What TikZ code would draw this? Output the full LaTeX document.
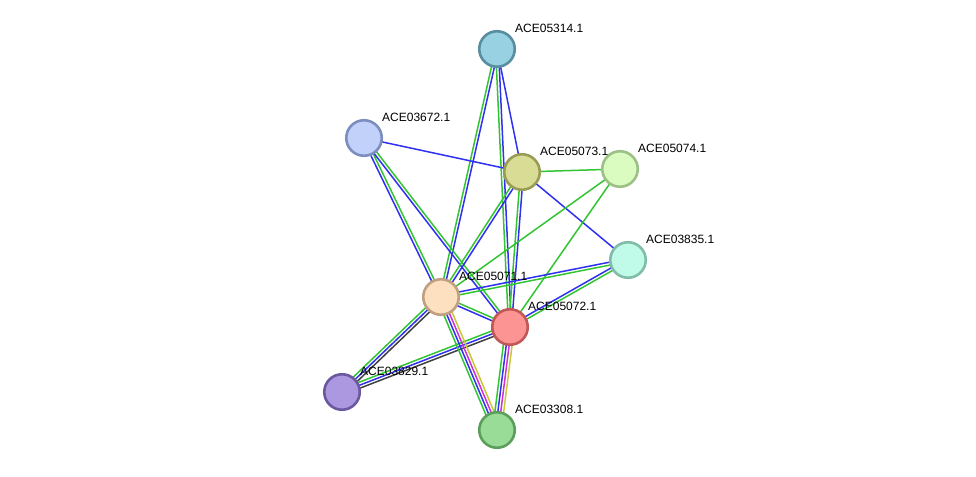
\documentclass[tikz,border=0pt]{standalone}
\usepackage{fontspec}
\setmainfont{Liberation Sans}
\usetikzlibrary{calc}
\pgfdeclarelayer{bg}
\pgfsetlayers{bg,main}
\definecolor{eg}{HTML}{33C433}
\definecolor{eb}{HTML}{3030F0}
\definecolor{ek}{HTML}{404040}
\definecolor{em}{HTML}{D030D0}
\definecolor{ey}{HTML}{C8C83A}
\tikzset{
  prot/.style={circle, minimum size=35.5pt, line width=2.6pt, inner sep=0pt},
  lbl/.style={anchor=west, inner sep=0pt, font=\fontsize{12}{13}\selectfont},
  edgeline/.style={line width=1.5pt}
}
\newcommand\edgeset[4]{%
  \foreach \cc [count=\ii] in {#4} {%
    \pgfmathsetmacro\off{((#3-1)/2-(\ii-1))*2.9}%
    \draw[edgeline, \cc] ($(#1.center)!\off pt!90:(#2.center)$) -- ($(#2.center)!\off pt!-90:(#1.center)$);
  }%
}
\begin{document}
\begin{tikzpicture}[x=1pt,y=-1pt]
\useasboundingbox (0,0) rectangle (976,476);
\node[prot, fill={rgb,255:red,152;green,210;blue,226}, draw={rgb,255:red,88;green,142;blue,160}] (p05314) at (497,49) {};
\node[prot, fill={rgb,255:red,194;green,209;blue,250}, draw={rgb,255:red,124;green,142;blue,192}] (p03672) at (364,138) {};
\node[prot, fill={rgb,255:red,216;green,220;blue,148}, draw={rgb,255:red,152;green,156;blue,84}] (p05073) at (522,172) {};
\node[prot, fill={rgb,255:red,218;green,252;blue,192}, draw={rgb,255:red,156;green,192;blue,134}] (p05074) at (620,169) {};
\node[prot, fill={rgb,255:red,192;green,251;blue,234}, draw={rgb,255:red,128;green,188;blue,168}] (p03835) at (628,260) {};
\node[prot, fill={rgb,255:red,253;green,224;blue,192}, draw={rgb,255:red,192;green,160;blue,128}] (p05071) at (441,297) {};
\node[prot, fill={rgb,255:red,252;green,148;blue,148}, draw={rgb,255:red,192;green,88;blue,88}] (p05072) at (510,327) {};
\node[prot, fill={rgb,255:red,171;green,152;blue,224}, draw={rgb,255:red,108;green,88;blue,160}] (p03829) at (342,392) {};
\node[prot, fill={rgb,255:red,152;green,220;blue,152}, draw={rgb,255:red,92;green,158;blue,92}] (p03308) at (497,430) {};
\begin{pgfonlayer}{bg}
\edgeset{p05071}{p05314}{2}{eg,eb}
\edgeset{p05072}{p05314}{2}{eg,eb}
\edgeset{p05073}{p05314}{1}{eb}
\edgeset{p05073}{p03672}{1}{eb}
\edgeset{p05071}{p03672}{2}{eb,eg}
\edgeset{p05072}{p03672}{2}{eb,eg}
\edgeset{p05073}{p05074}{1}{eg}
\edgeset{p05071}{p05073}{2}{eg,eb}
\edgeset{p05072}{p05073}{2}{eg,eb}
\edgeset{p05073}{p03835}{1}{eb}
\edgeset{p05071}{p05074}{1}{eg}
\edgeset{p05072}{p05074}{1}{eg}
\edgeset{p05071}{p03835}{2}{eb,eg}
\edgeset{p05072}{p03835}{2}{eb,eg}
\edgeset{p05071}{p05072}{2}{eg,eb}
\edgeset{p03829}{p05071}{3}{eg,eb,ek}
\edgeset{p03829}{p05072}{3}{eg,eb,ek}
\edgeset{p03308}{p05071}{4}{eg,eb,em,ey}
\edgeset{p03308}{p05072}{4}{eg,eb,em,ey}
\end{pgfonlayer}
\foreach \n/\t in {p05314/ACE05314.1, p03672/ACE03672.1, p05073/ACE05073.1, p05074/ACE05074.1, p03835/ACE03835.1, p05071/ACE05071.1, p05072/ACE05072.1, p03829/ACE03829.1, p03308/ACE03308.1} {
  \node[lbl] (l\n) at ($(\n.center)+(18,-21)$) {\t};
}
\end{tikzpicture}
\end{document}
